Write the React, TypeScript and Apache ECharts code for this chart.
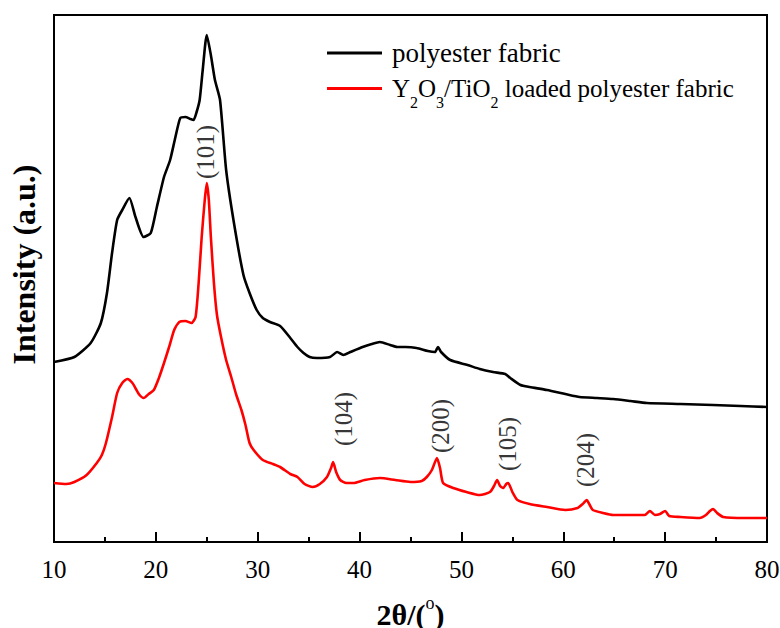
import React, { useEffect, useRef } from 'react';
import * as echarts from 'echarts';

const SERIF = '"Liberation Serif", "Times New Roman", Times, serif';

const BLACK_NAME = 'polyester fabric';
const RED_NAME = 'Y2O3/TiO2 loaded polyester fabric';

// Diffraction pattern of the untreated fabric: 2θ (degrees) and intensity (a.u.)
const blackTheta = [
  10.0, 12.0, 13.6, 14.6, 15.2, 15.7, 16.2, 16.7, 17.4, 18.0, 18.8, 19.5, 20.1, 20.8, 21.4, 21.9,
  22.4, 22.9, 23.4, 23.7, 24.0, 24.3, 24.6, 25.0, 25.4, 25.8, 26.3, 26.9, 27.7, 28.6, 29.2, 29.9,
  30.5, 31.2, 32.2, 33.2, 33.9, 34.5, 35.1, 35.8, 37.1, 37.8, 38.4, 39.1, 40.3, 41.2, 42.0, 43.0,
  43.7, 44.5, 45.6, 46.7, 47.4, 47.7, 48.0, 48.9, 50.6, 51.8, 53.1, 54.3, 54.8, 55.8, 56.7, 58.4,
  60.2, 61.6, 63.3, 64.9, 66.6, 68.2, 71.5, 74.7, 77.4, 80.0,
];
const blackIntensity = [
  180, 185, 199, 219, 249, 289, 322, 332, 344, 325, 305, 309, 335, 365, 382, 404,
  424, 425, 423, 422, 430, 442, 472, 507, 487, 462, 442, 372, 317, 267, 249, 232,
  224, 220, 216, 204, 195, 189, 185, 184, 185, 190, 187, 190, 195, 198, 200, 197,
  195, 195, 194, 191, 190, 195, 190, 182, 177, 173, 170, 168, 164, 157, 155, 152,
  148, 145, 144, 143, 141, 139, 138, 137, 136, 135,
];

// Diffraction pattern of the Y2O3/TiO2 loaded fabric
const redTheta = [
  10.0, 11.2, 12.0, 13.2, 14.2, 14.7, 15.1, 15.7, 16.2, 16.7, 17.2, 17.7, 18.1, 18.4, 18.8, 19.3,
  19.8, 20.3, 20.8, 21.3, 21.8, 22.3, 22.9, 23.5, 23.9, 24.2, 24.5, 24.8, 25.0, 25.2, 25.4, 25.7,
  26.0, 26.4, 26.9, 27.4, 27.9, 28.4, 28.8, 29.2, 29.6, 30.5, 31.5, 32.2, 33.2, 33.9, 34.6, 35.4,
  36.1, 36.8, 37.2, 37.4, 37.7, 38.1, 38.7, 39.4, 40.5, 42.0, 43.5, 45.0, 46.1, 46.6, 47.1, 47.6,
  47.9, 48.2, 49.2, 50.5, 51.8, 52.8, 53.2, 53.5, 53.8, 54.1, 54.4, 54.6, 55.0, 55.5, 56.7, 58.4,
  60.2, 61.4, 61.9, 62.3, 62.6, 62.9, 63.9, 64.9, 66.6, 68.0, 68.5, 69.0, 69.5, 70.0, 70.4, 71.5,
  73.4, 74.0, 74.4, 74.7, 75.1, 75.7, 77.8, 80.0,
];
const redIntensity = [
  59, 58, 60, 67, 79, 87, 99, 125, 149, 159, 163, 159, 152, 147, 144, 148,
  152, 164, 179, 195, 212, 220, 221, 219, 225, 259, 305, 342, 359, 342, 305, 259,
  227, 205, 182, 165, 147, 132, 117, 99, 92, 82, 78, 75, 68, 65, 58, 55,
  58, 65, 74, 80, 70, 62, 59, 59, 62, 64, 62, 60, 61, 65, 72, 84,
  74, 59, 54, 50, 47, 50, 56, 62, 56, 54, 58, 59, 50, 42, 38, 35,
  32, 34, 38, 42, 37, 32, 29, 27, 27, 27, 31, 27, 28, 31, 26, 25,
  24, 27, 31, 33, 29, 25, 24, 24,
];

// Anatase reflections marked above the loaded-fabric pattern
const peakLabels = ['(101)', '(104)', '(200)', '(105)', '(204)'];
const peakLabelTheta = [24.9, 38.4, 47.9, 54.5, 62.2];
const peakLabelIntensity = [390, 123, 116, 98, 82];

const zip = (xs: number[], ys: number[]) => xs.map((x, i) => [x, ys[i]]);

export default function App() {
  const ref = useRef<HTMLDivElement>(null);

  useEffect(() => {
    const chart = echarts.init(ref.current!, null, { renderer: 'svg' });
    chart.setOption({
      animation: false,
      backgroundColor: '#fff',
      grid: {
        left: 54,
        right: 13,
        top: 15,
        bottom: 86,
        show: true,
        borderColor: '#000',
        borderWidth: 2,
        backgroundColor: 'transparent',
        outerBoundsMode: 'none',
        containLabel: false,
      },
      legend: [
        {
          data: [BLACK_NAME],
          left: 327,
          top: 39,
          padding: 0,
          icon: 'rect',
          itemWidth: 55,
          itemHeight: 3,
          textStyle: {
            fontFamily: SERIF,
            fontSize: 27,
            lineHeight: 28,
            color: '#000',
            padding: [0, 0, 0, 5],
          },
        },
        {
          data: [RED_NAME],
          left: 327,
          top: 76,
          padding: 0,
          icon: 'rect',
          itemWidth: 55,
          itemHeight: 3,
          formatter: () => '{n|Y}{s|2}{n|O}{s|3}{n|/TiO}{s|2}{n| loaded polyester fabric}',
          textStyle: {
            fontFamily: SERIF,
            fontSize: 25,
            color: '#000',
            padding: [0, 0, 0, 5],
            rich: {
              n: { fontFamily: SERIF, fontSize: 25, lineHeight: 44, color: '#000' },
              s: {
                fontFamily: SERIF,
                fontSize: 16,
                lineHeight: 44,
                verticalAlign: 'bottom',
                color: '#000',
              },
            },
          },
        },
      ],
      xAxis: {
        type: 'value',
        min: 10,
        max: 80,
        interval: 10,
        axisLine: { show: true, lineStyle: { color: '#000', width: 2 } },
        axisTick: { show: true, inside: true, length: 10, lineStyle: { color: '#000', width: 2 } },
        minorTick: { show: true, splitNumber: 2, length: 5, lineStyle: { color: '#000', width: 2 } },
        splitLine: { show: false },
        minorSplitLine: { show: false },
        axisLabel: { fontFamily: SERIF, fontSize: 25, color: '#000', margin: 15 },
        name: '{b|2θ/(}{sup|o}{b|)}',
        nameLocation: 'middle',
        nameGap: 52,
        nameTextStyle: {
          rich: {
            b: { fontFamily: SERIF, fontSize: 30, fontWeight: 'bold', lineHeight: 40, color: '#000' },
            sup: { fontFamily: SERIF, fontSize: 18, lineHeight: 40, verticalAlign: 'top', color: '#000' },
          },
        },
      },
      yAxis: {
        type: 'value',
        min: 0,
        max: 527,
        axisLine: { show: true, lineStyle: { color: '#000', width: 2 } },
        axisTick: { show: false },
        axisLabel: { show: false },
        splitLine: { show: false },
        name: 'Intensity (a.u.)',
        nameLocation: 'middle',
        nameGap: 14,
        nameTextStyle: {
          fontFamily: SERIF,
          fontSize: 32,
          fontWeight: 'bold',
          color: '#000',
          padding: [0, 0, 0, 28],
        },
      },
      series: [
        {
          name: BLACK_NAME,
          type: 'line',
          data: zip(blackTheta, blackIntensity),
          showSymbol: false,
          symbol: 'none',
          smooth: 0.2,
          lineStyle: { color: '#000', width: 2.6 },
          itemStyle: { color: '#000' },
        },
        {
          name: RED_NAME,
          type: 'line',
          data: zip(redTheta, redIntensity),
          showSymbol: false,
          symbol: 'none',
          smooth: 0.2,
          lineStyle: { color: '#ff0000', width: 2.6 },
          itemStyle: { color: '#ff0000' },
        },
        {
          name: 'peak labels',
          type: 'scatter',
          data: zip(peakLabelTheta, peakLabelIntensity),
          symbolSize: 1,
          itemStyle: { color: 'transparent' },
          silent: true,
          label: {
            show: true,
            position: 'inside',
            rotate: 90,
            fontFamily: SERIF,
            fontSize: 25,
            color: '#000',
            textBorderWidth: 0,
            textBorderColor: 'transparent',
            formatter: (p: any) => peakLabels[p.dataIndex],
          },
        },
      ],
    });
    return () => chart.dispose();
  }, []);

  return (
    <div
      ref={ref}
      style={{ position: 'fixed', left: 0, top: 0, width: 780, height: 628, background: '#fff' }}
    />
  );
}
